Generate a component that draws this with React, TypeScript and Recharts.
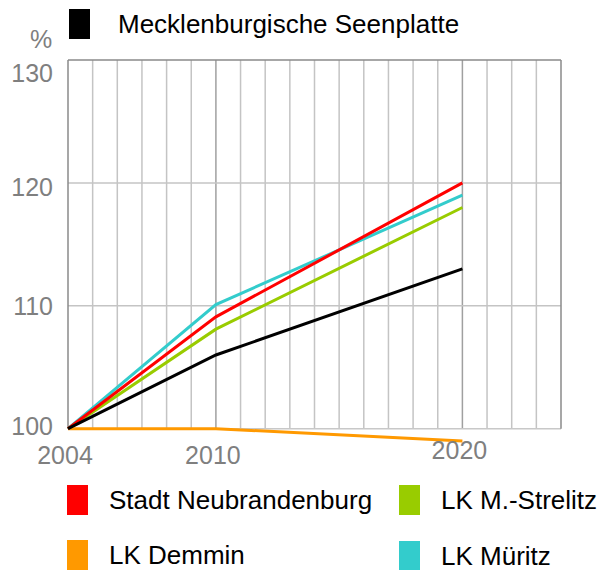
import { LineChart, Line, XAxis, YAxis, ReferenceLine } from 'recharts'

// Bevölkerungsentwicklung, Index 2004 = 100
const years = [2004, 2010, 2020]
const seenplatte = [100, 106, 113]
const neubrandenburg = [100, 109.1, 120]
const strelitz = [100, 108.1, 118]
const demmin = [100, 100, 99]
const mueritz = [100, 110.1, 119]

const yTicks = [100, 110, 120, 130]
const xTicks = [2004, 2010, 2020]
const gridYears = Array.from({ length: 19 }, (_, i) => 2005 + i)

const FONT = '"Liberation Sans", Arial, sans-serif'
const GRAY = '#7f7f7f'

const series = [
  { key: 'demmin', name: 'LK Demmin', color: '#ff9900', values: demmin },
  { key: 'mueritz', name: 'LK Müritz', color: '#33cccc', values: mueritz },
  { key: 'strelitz', name: 'LK M.-Strelitz', color: '#99cc00', values: strelitz },
  { key: 'neubrandenburg', name: 'Stadt Neubrandenburg', color: '#ff0000', values: neubrandenburg },
  { key: 'seenplatte', name: 'Mecklenburgische Seenplatte', color: '#000000', values: seenplatte },
]

const data = years.map((year, i) => {
  const row: Record<string, number> = { year }
  series.forEach((s) => { row[s.key] = s.values[i] })
  return row
})

const yOffset: Record<number, number> = { 130: 13, 120: 4, 110: 0, 100: -3 }
const xOffset: Record<number, number> = { 2004: 6, 2010: 6, 2020: 1 }

function YTick({ x, y, payload }: any) {
  return (
    <text x={x} y={y + (yOffset[payload.value] ?? 0)} dy="0.36em" textAnchor="end" fill={GRAY} fontSize={25} fontFamily={FONT}>
      {payload.value}
    </text>
  )
}

function XTick({ x, y, payload }: any) {
  return (
    <text x={x - 3} y={y + (xOffset[payload.value] ?? 0)} dy="0.36em" textAnchor="middle" fill={GRAY} fontSize={25} fontFamily={FONT}>
      {payload.value}
    </text>
  )
}

const legendPos: Record<string, { left: number; top: number; text: number }> = {
  seenplatte: { left: 69, top: 9, text: 118 },
  neubrandenburg: { left: 67, top: 485, text: 109 },
  strelitz: { left: 399, top: 485, text: 441 },
  demmin: { left: 67, top: 540, text: 109 },
  mueritz: { left: 399, top: 541, text: 441 },
}

export default function App() {
  return (
    <div style={{ position: 'absolute', left: 0, top: 0, width: 600, height: 570, background: '#fff', fontFamily: FONT }}>
      <LineChart width={600} height={570} data={data} margin={{ top: 60, right: 39, left: 0, bottom: 99 }}>
        <XAxis dataKey="year" type="number" domain={[2004, 2024]} ticks={xTicks} axisLine={false} tickLine={false} height={30} tick={<XTick />} interval={0} />
        <YAxis type="number" domain={[99, 130]} ticks={yTicks} axisLine={false} tickLine={false} width={68} tickMargin={9} tick={<YTick />} interval={0} />

        {gridYears.map((yr) => (
          <ReferenceLine key={yr} segment={[{ x: yr, y: 100 }, { x: yr, y: 130 }]}
            stroke={yr === 2010 || yr === 2020 ? '#a0a0a0' : '#c4c4c4'} strokeWidth={1.5} />
        ))}
        <ReferenceLine segment={[{ x: 2004, y: 110 }, { x: 2024, y: 110 }]} stroke="#c4c4c4" strokeWidth={1.5} />
        <ReferenceLine segment={[{ x: 2004, y: 120 }, { x: 2024, y: 120 }]} stroke="#c4c4c4" strokeWidth={1.5} />
        <ReferenceLine segment={[{ x: 2004, y: 100 }, { x: 2024, y: 100 }]} stroke="#c8c8c8" strokeWidth={1.5} />
        <ReferenceLine segment={[{ x: 2004, y: 130 }, { x: 2024, y: 130 }]} stroke="#8a8a8a" strokeWidth={1.5} />
        <ReferenceLine segment={[{ x: 2004, y: 100 }, { x: 2004, y: 130 }]} stroke="#8a8a8a" strokeWidth={1.5} />
        <ReferenceLine segment={[{ x: 2024, y: 100 }, { x: 2024, y: 130 }]} stroke="#8a8a8a" strokeWidth={1.5} />

        {series.map((s) => (
          <Line key={s.key} dataKey={s.key} name={s.name} type="linear" stroke={s.color} strokeWidth={3}
            dot={false} activeDot={false} isAnimationActive={false} />
        ))}
      </LineChart>

      <div style={{ position: 'absolute', left: 30, top: 24, fontSize: 25, color: GRAY, lineHeight: '30px' }}>%</div>

      {series.map((s) => {
        const p = legendPos[s.key]
        return (
          <div key={s.key}>
            <div style={{ position: 'absolute', left: p.left, top: p.top, width: 21, height: 30, background: s.color }} />
            <div style={{ position: 'absolute', left: p.text, top: p.top, height: 30, display: 'flex', alignItems: 'center', fontSize: 26, color: '#000', whiteSpace: 'nowrap', lineHeight: 1 }}>
              {s.name}
            </div>
          </div>
        )
      })}
    </div>
  )
}
